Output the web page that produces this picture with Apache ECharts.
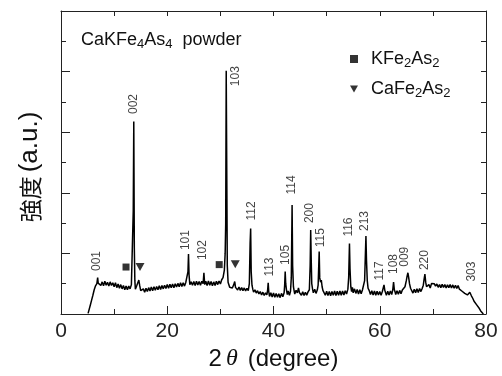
<!DOCTYPE html>
<html>
<head>
<meta charset="utf-8">
<script src="https://cdn.jsdelivr.net/npm/echarts@6/dist/echarts.min.js"></script>
<style>
html, body { margin: 0; padding: 0; background: #fff; }
#main { width: 502px; height: 376px; }
</style>
</head>
<body>
<div id="main"></div>
<script>
// XRD scan: [2theta (deg), intensity (a.u.)]
const scan = [
  [5.1,0.02],[5.25,0.12],[5.5,0.28],[5.75,0.45],[6.0,0.62],[6.25,0.8],[6.5,0.93],[6.75,1.0],[6.9,1.2],[7.0,1.02],
  [7.25,1.07],[7.5,0.94],[7.75,1.06],[8.0,0.93],[8.25,1.08],[8.5,0.95],[8.75,1.05],[9.0,0.92],[9.25,1.06],[9.5,0.94],
  [9.75,1.03],[10.0,0.9],[10.25,1.03],[10.5,0.87],[10.75,0.99],[11.0,0.85],[11.25,0.97],[11.5,0.83],[11.75,0.94],[12.0,0.8],
  [12.25,0.92],[12.5,0.8],[12.75,0.92],[13.0,0.83],[13.25,0.97],[13.5,1.0],[13.6,3.4],[13.7,6.35],[13.8,2.2],[13.9,1.1],
  [14.0,0.82],[14.25,0.93],[14.5,0.98],[14.65,1.12],[14.8,0.95],[15.0,0.77],[15.25,0.71],[15.5,0.83],[15.75,0.72],[16.0,0.85],
  [16.25,0.74],[16.5,0.87],[16.75,0.76],[17.0,0.89],[17.25,0.77],[17.5,0.9],[17.75,0.78],[18.0,0.91],[18.25,0.8],[18.5,0.93],
  [18.75,0.81],[19.0,0.94],[19.25,0.83],[19.5,0.95],[19.75,0.84],[20.0,0.97],[20.25,0.85],[20.5,0.98],[20.75,0.87],[21.0,0.99],
  [21.25,0.87],[21.5,1.0],[21.75,0.89],[22.0,1.01],[22.25,0.9],[22.5,1.03],[22.75,0.91],[23.0,1.03],[23.25,0.92],[23.5,1.05],
  [23.75,1.06],[23.9,1.4],[24.0,1.98],[24.1,1.3],[24.25,0.97],[24.5,1.06],[24.75,0.95],[25.0,1.07],[25.25,0.94],[25.5,1.08],
  [25.75,0.96],[26.0,1.07],[26.25,0.95],[26.5,1.08],[26.75,1.0],[26.9,1.36],[27.05,0.97],[27.25,1.08],[27.5,0.94],[27.75,1.09],
  [28.0,0.95],[28.25,1.07],[28.5,0.93],[28.75,1.06],[29.0,0.94],[29.25,1.08],[29.5,0.97],[29.75,1.09],[30.0,0.99],[30.25,1.13],
  [30.5,1.2],[30.75,1.45],[30.9,2.0],[31.0,2.95],[31.1,8.03],[31.2,4.8],[31.3,1.6],[31.45,1.05],[31.6,0.99],[31.75,0.88],
  [32.0,0.94],[32.25,0.86],[32.5,0.96],[32.7,1.07],[32.85,0.88],[33.0,0.91],[33.25,0.79],[33.5,0.89],[33.75,0.78],[34.0,0.87],
  [34.25,0.77],[34.5,0.86],[34.75,0.76],[35.0,0.85],[35.25,0.77],[35.45,1.0],[35.6,2.35],[35.7,2.82],[35.8,1.4],[35.95,0.95],
  [36.1,0.82],[36.25,0.72],[36.5,0.8],[36.75,0.69],[37.0,0.77],[37.25,0.66],[37.5,0.74],[37.75,0.63],[38.0,0.72],[38.25,0.61],
  [38.5,0.7],[38.75,0.63],[38.9,0.8],[39.0,1.03],[39.1,0.75],[39.25,0.58],[39.5,0.7],[39.75,0.56],[40.0,0.69],[40.25,0.55],
  [40.5,0.68],[40.75,0.55],[41.0,0.67],[41.25,0.54],[41.5,0.68],[41.75,0.57],[42.0,0.7],[42.1,0.95],[42.2,1.4],[42.3,1.0],
  [42.45,0.78],[42.6,0.64],[42.75,0.76],[43.0,0.62],[43.2,0.75],[43.35,1.2],[43.5,3.6],[43.6,1.6],[43.75,0.9],[43.9,0.75],
  [44.0,0.66],[44.25,0.78],[44.5,0.7],[44.7,0.86],[44.9,0.7],[45.0,0.74],[45.25,0.62],[45.5,0.73],[45.75,0.61],[46.0,0.72],
  [46.25,0.62],[46.5,0.73],[46.75,0.8],[46.9,1.6],[47.0,2.77],[47.1,1.8],[47.2,1.0],[47.35,0.82],[47.5,0.7],[47.75,0.82],
  [48.0,0.68],[48.25,0.8],[48.4,0.95],[48.5,1.5],[48.6,2.06],[48.7,1.2],[48.85,1.05],[49.0,1.12],[49.15,0.9],[49.3,0.78],
  [49.5,0.74],[49.75,0.62],[50.0,0.75],[50.25,0.61],[50.5,0.74],[50.75,0.6],[51.0,0.74],[51.25,0.62],[51.5,0.76],[51.75,0.61],
  [52.0,0.75],[52.25,0.62],[52.5,0.76],[52.75,0.62],[53.0,0.76],[53.25,0.63],[53.5,0.77],[53.75,0.66],[54.0,0.82],[54.15,1.2],
  [54.3,2.33],[54.4,1.5],[54.55,0.9],[54.7,0.74],[54.85,0.88],[55.0,0.7],[55.25,0.83],[55.5,0.68],[55.75,0.81],[56.0,0.66],
  [56.25,0.8],[56.5,0.67],[56.75,0.8],[57.0,0.85],[57.15,1.1],[57.3,2.0],[57.4,2.57],[57.5,1.8],[57.65,1.1],[57.8,0.85],
  [58.0,0.78],[58.25,0.64],[58.5,0.77],[58.75,0.63],[59.0,0.76],[59.25,0.62],[59.5,0.75],[59.75,0.63],[60.0,0.74],[60.25,0.62],
  [60.5,0.75],[60.7,0.8],[60.8,0.96],[60.95,0.78],[61.1,0.74],[61.25,0.62],[61.5,0.75],[61.75,0.63],[62.0,0.76],[62.25,0.64],
  [62.45,0.8],[62.6,1.05],[62.75,0.8],[62.9,0.72],[63.0,0.64],[63.25,0.77],[63.5,0.65],[63.75,0.78],[64.0,0.67],[64.25,0.79],
  [64.5,0.77],[64.75,0.9],[65.0,1.1],[65.15,1.25],[65.3,1.36],[65.45,1.2],[65.6,1.0],[65.8,0.85],[66.0,0.82],[66.25,0.69],
  [66.5,0.82],[66.75,0.7],[67.0,0.83],[67.25,0.71],[67.5,0.84],[67.75,0.74],[68.0,0.85],[68.2,0.95],[68.35,1.15],[68.5,1.32],
  [68.65,1.05],[68.8,0.9],[69.0,0.84],[69.25,0.97],[69.5,0.86],[69.75,1.01],[70.0,0.97],[70.25,1.0],[70.5,0.92],[70.75,0.99],
  [71.0,0.88],[71.25,0.97],[71.5,0.87],[71.75,0.98],[72.0,0.88],[72.25,0.97],[72.5,0.86],[72.75,0.96],[73.0,0.87],[73.25,0.97],
  [73.5,0.86],[73.75,0.96],[74.0,0.85],[74.25,0.95],[74.5,0.84],[74.75,0.94],[75.0,0.82],[75.25,0.88],[75.5,0.75],[75.75,0.8],
  [76.0,0.68],[76.25,0.73],[76.5,0.63],[76.75,0.68],[76.95,0.72],[77.1,0.77],[77.25,0.6],[77.5,0.52],[77.75,0.42],[78.0,0.36],
  [78.25,0.3],[78.5,0.24],[78.75,0.18],[79.0,0.1],[79.25,0.05],[79.5,0.0]
];

// Miller index labels: text, 2theta, height where the label is centred
const hklNames  = ['001','002','101','102','103','112','113','105','114','200','115','116','213','117','108','009','220','303'];
const hklTheta  = [6.72, 13.74, 23.53, 26.73, 32.94, 35.9, 39.34, 42.35, 43.43, 46.87, 48.94, 54.21, 57.22, 60.05, 62.68, 64.75, 68.52, 77.3];
const hklHeight = [1.75, 6.93, 2.44, 2.11, 7.85, 3.4, 1.55, 1.95, 4.26, 3.33, 2.52, 2.87, 3.07, 1.42, 1.65, 1.89, 1.78, 1.40];

// impurity markers
const kfeMarks  = [[12.24, 1.55], [29.78, 1.63]];
const cafeMarks = [[14.87, 1.55], [32.8, 1.64]];

const FONT = '"Liberation Sans", Arial, sans-serif';
const AXIS_COLOR = '#222';

const chart = echarts.init(document.getElementById('main'));

const subRich = {
  n: { fontSize: 18, fontFamily: FONT, fontWeight: 'normal', color: '#111', lineHeight: 22 },
  f: { fontSize: 18, fontFamily: FONT, fontWeight: 'normal', color: '#111', lineHeight: 22, padding: [0, 0, 0, 8] },
  s: { fontSize: 13, fontFamily: FONT, fontWeight: 'normal', color: '#111', lineHeight: 12, verticalAlign: 'bottom' }
};

const frameAxis = {
  min: 0,
  axisLine: { show: true, onZero: false, lineStyle: { color: AXIS_COLOR, width: 1 } },
  axisLabel: { show: false },
  splitLine: { show: false }
};

const option = {
  animation: false,
  backgroundColor: '#fff',
  title: {
    text: '{n|CaKFe}{s|4}{n|As}{s|4}{n|  powder}',
    left: 81,
    top: 29,
    padding: 0,
    textStyle: { fontWeight: 'normal', rich: subRich }
  },
  legend: {
    data: [
      { name: 'KFe2As2', icon: 'rect' },
      { name: 'CaFe2As2', icon: 'path://M0,0L10,0L5,9Z' }
    ],
    orient: 'vertical',
    left: 350,
    top: 50,
    padding: 0,
    itemWidth: 8,
    itemHeight: 8,
    itemGap: 10,
    formatter: function (name) {
      return name === 'KFe2As2'
        ? '{f|KFe}{s|2}{n|As}{s|2}'
        : '{f|CaFe}{s|2}{n|As}{s|2}';
    },
    textStyle: { rich: subRich }
  },
  grid: { left: 61, right: 16, top: 11, bottom: 62 },
  xAxis: [
    Object.assign({}, frameAxis, {
      type: 'value',
      position: 'bottom',
      max: 80,
      interval: 20,
      axisTick: { show: true, inside: true, length: 8, lineStyle: { color: AXIS_COLOR } },
      minorTick: { show: true, splitNumber: 2, length: 5, lineStyle: { color: AXIS_COLOR } },
      axisLabel: { show: true, fontSize: 21, fontFamily: FONT, color: '#222', margin: 7 },
      name: '{n|2}{i|θ}{n|(degree)}',
      nameLocation: 'middle',
      nameGap: 33,
      nameTextStyle: {
        rich: {
          n: { fontSize: 24, fontFamily: FONT, color: '#111' },
          i: { fontSize: 24, fontFamily: '"Liberation Serif", serif', fontStyle: 'italic', color: '#111', padding: [0, 10, 0, 4] }
        }
      }
    }),
    Object.assign({}, frameAxis, {
      type: 'value',
      position: 'top',
      max: 80,
      interval: 10,
      axisTick: { show: true, inside: true, length: 5, lineStyle: { color: AXIS_COLOR } }
    })
  ],
  yAxis: [
    Object.assign({}, frameAxis, {
      type: 'value',
      position: 'left',
      max: 10,
      interval: 2,
      axisTick: { show: true, inside: true, length: 9, lineStyle: { color: AXIS_COLOR } },
      minorTick: { show: true, splitNumber: 2, length: 5, lineStyle: { color: AXIS_COLOR } },
      name: '{c|強度}{l|(a.u.)}',
      nameLocation: 'middle',
      nameGap: 18,
      nameTextStyle: {
        rich: {
          c: { fontSize: 23, fontFamily: '"Noto Sans CJK JP", sans-serif', color: '#111' },
          l: { fontSize: 26, fontFamily: FONT, color: '#111', padding: [0, 9, 0, 4] }
        }
      }
    }),
    Object.assign({}, frameAxis, {
      type: 'value',
      position: 'right',
      max: 10,
      interval: 1,
      axisTick: { show: true, inside: true, length: 5, lineStyle: { color: AXIS_COLOR } }
    })
  ],
  series: [
    {
      name: 'scan',
      type: 'line',
      data: scan,
      showSymbol: false,
      symbol: 'none',
      lineStyle: { color: '#000', width: 1.5 },
      z: 2
    },
    {
      name: 'hkl',
      type: 'scatter',
      symbolSize: 0,
      silent: true,
      data: hklNames.map(function (n, i) {
        return { name: n, value: [hklTheta[i], hklHeight[i]] };
      }),
      label: {
        show: true,
        position: 'inside',
        rotate: 90,
        formatter: '{b}',
        fontSize: 12,
        fontFamily: FONT,
        color: '#111'
      },
      z: 3
    },
    {
      name: 'KFe2As2',
      type: 'scatter',
      symbol: 'rect',
      symbolSize: 7,
      itemStyle: { color: '#000' },
      data: kfeMarks,
      z: 4
    },
    {
      name: 'CaFe2As2',
      type: 'scatter',
      symbol: 'triangle',
      symbolRotate: 180,
      symbolSize: [9, 8],
      itemStyle: { color: '#000' },
      data: cafeMarks,
      z: 4
    }
  ]
};

chart.setOption(option);
</script>
</body>
</html>
